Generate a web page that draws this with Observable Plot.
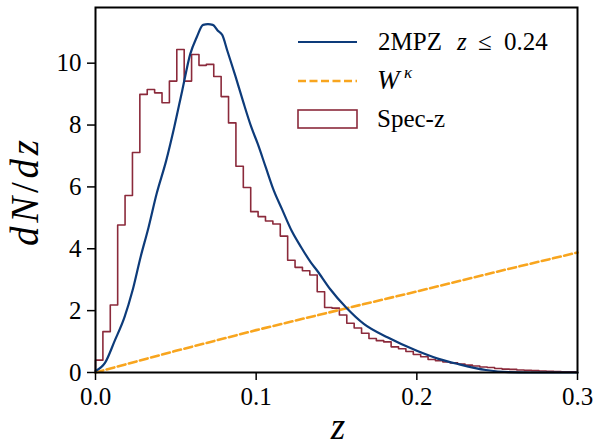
<!DOCTYPE html>
<html><head><meta charset="utf-8">
<script src="https://cdn.jsdelivr.net/npm/d3@7"></script>
<script src="https://cdn.jsdelivr.net/npm/@observablehq/plot@0.6"></script>
<style>body{margin:0;background:#fff}</style>
</head><body><div id="chart"></div>
<script>
// Spec-z histogram: bins start at 0, width 0.0046
const binStart = 0;
const binWidth = 0.0046;
const specZ = [0.40,1.32,2.18,4.77,5.72,7.11,8.99,9.15,9.04,8.72,9.42,10.44,9.42,10.28,9.93,9.96,9.57,8.92,8.07,6.67,
  5.98,5.20,5.04,4.90,4.80,4.41,3.63,3.40,3.29,3.15,2.61,2.10,2.08,1.86,1.59,1.44,1.27,1.10,1.03,0.99,
  0.83,0.77,0.68,0.58,0.51,0.42,0.38,0.34,0.31,0.27,0.24,0.21,0.18,0.16,0.13,0.11,0.10,0.08,0.07,0.06,
  0.05,0.04,0.03,0.02,0.02];
// 2MPZ photo-z dN/dz
const photoZ  = [0,0.006,0.012,0.018,0.023,0.028,0.033,0.038,0.044,0.049,0.054,0.059,0.063,0.067,0.070,0.073,0.076,0.079,0.082,0.087,
  0.092,0.097,0.101,0.106,0.111,0.116,0.122,0.128,0.134,0.138,0.146,0.156,0.167,0.182,0.200,0.213,0.226,0.243,0.257,0.270,0.300];
const photoDN = [0.05,0.32,1.03,1.78,2.64,3.72,4.69,5.77,6.85,7.93,9.12,10.30,10.84,11.24,11.26,11.24,11.06,10.90,10.41,9.60,
  8.74,7.93,7.39,6.63,5.88,5.29,4.59,4.05,3.56,3.29,2.70,2.10,1.57,1.13,0.70,0.45,0.27,0.08,0.01,0.0,0.0];
// Lensing kernel W^kappa
const wZ = [0,0.05,0.1,0.15,0.2,0.25,0.3];
const wK = [0,0.70,1.37,2.00,2.62,3.26,3.88];
const xTicks = [0,0.1,0.2,0.3];
const yTicks = [0,2,4,6,8,10];

const BLUE = "#0d3b7a", RED = "#8b2a3b", ORANGE = "#f8a51e";
const FONT = "'Liberation Serif', serif";

const histPts = [{z: binStart, v: 0}]
  .concat(specZ.map((v, i) => ({z: binStart + i * binWidth, v})))
  .concat([{z: binStart + specZ.length * binWidth, v: specZ[specZ.length - 1]},
           {z: binStart + specZ.length * binWidth, v: 0}]);
const photo = photoZ.map((z, i) => ({z, v: photoDN[i]}));
const wk = wZ.map((z, i) => ({z, v: wK[i]}));

const svg = Plot.plot({
  width: 606, height: 448,
  marginLeft: 95, marginRight: 29, marginTop: 7, marginBottom: 76,
  style: {fontFamily: FONT, background: "white", color: "black"},
  x: {domain: [0, 0.3]},
  y: {domain: [0, 11.8]},
  marks: [
    Plot.line(histPts, {x: "z", y: "v", curve: "step-after", stroke: RED, strokeWidth: 1.6}),
    Plot.line(wk, {x: "z", y: "v", stroke: ORANGE, strokeWidth: 2.6, strokeDasharray: "8,3.5"}),
    Plot.line(photo, {x: "z", y: "v", curve: "monotone-x", stroke: BLUE, strokeWidth: 2.2}),
    Plot.axisX({ticks: xTicks, tickFormat: d3.format(".1f"), tickSize: 8, tickPadding: 7, strokeWidth: 1.5, fontSize: 25, fontFamily: FONT, label: null}),
    Plot.axisY({ticks: yTicks, tickFormat: d3.format("d"), tickSize: 8, tickPadding: 6, strokeWidth: 1.5, fontSize: 25, fontFamily: FONT, label: null}),
    Plot.frame({stroke: "black", strokeWidth: 2})
  ]
});

const s = d3.select(svg);
// axis labels
const yl = s.append("text").attr("transform", "translate(38,193) rotate(-90)")
  .attr("text-anchor", "middle").attr("font-family", FONT).attr("font-size", 39).attr("fill", "black")
  .attr("textLength", 106).attr("lengthAdjust", "spacing");
yl.append("tspan").attr("font-style", "italic").text("dN");
yl.append("tspan").text("/");
yl.append("tspan").attr("font-style", "italic").text("dz");
s.append("text").attr("x", 338).attr("y", 439).attr("text-anchor", "middle")
  .attr("font-family", FONT).attr("font-size", 37).attr("font-style", "italic").attr("fill", "black").text("z");

// legend
const lg = s.append("g").attr("font-family", FONT).attr("font-size", 25).attr("fill", "black").attr("text-anchor", "start");
lg.append("line").attr("x1", 298).attr("x2", 357).attr("y1", 42).attr("y2", 42).attr("stroke", BLUE).attr("stroke-width", 2.2);
const t1 = lg.append("text").attr("y", 50);
t1.append("tspan").attr("x", 378).text("2MPZ");
t1.append("tspan").attr("x", 457).attr("font-style", "italic").text("z");
t1.append("tspan").attr("x", 478).text("\u2264");
t1.append("tspan").attr("x", 504).text("0.24");
lg.append("line").attr("x1", 298).attr("x2", 357).attr("y1", 81).attr("y2", 81).attr("stroke", ORANGE).attr("stroke-width", 2.6).attr("stroke-dasharray", "8,3.5");
const t2 = lg.append("text").attr("y", 89);
t2.append("tspan").attr("x", 377).attr("font-style", "italic").attr("font-size", 27).text("W");
t2.append("tspan").attr("x", 404).attr("font-style", "italic").attr("font-size", 17).attr("dy", -11).text("\u03ba");
lg.append("rect").attr("x", 298).attr("y", 110).attr("width", 59).attr("height", 18).attr("fill", "none").attr("stroke", RED).attr("stroke-width", 1.6);
lg.append("text").attr("x", 377).attr("y", 127).text("Spec-z");

document.getElementById("chart").appendChild(svg);
</script>
</body></html>
